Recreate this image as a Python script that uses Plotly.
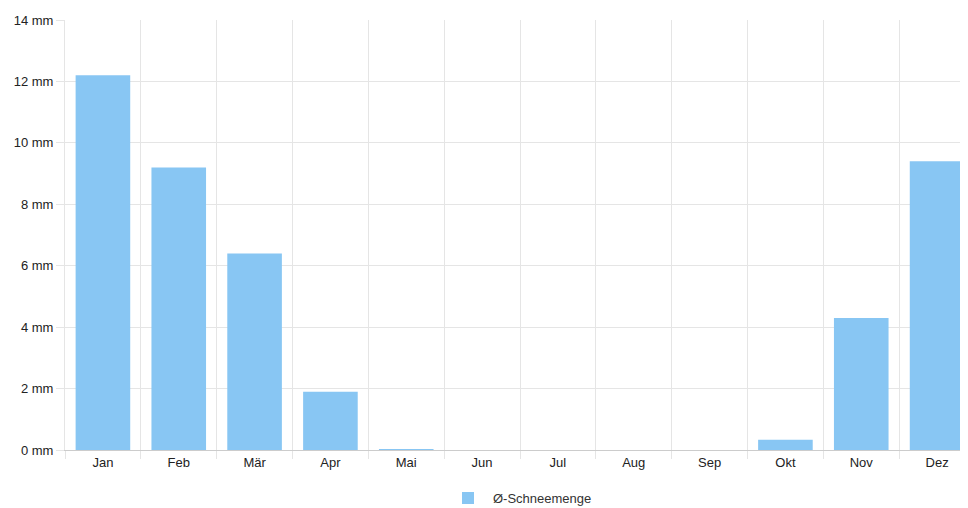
import plotly.graph_objects as go

months = ["Jan", "Feb", "Mär", "Apr", "Mai", "Jun", "Jul", "Aug", "Sep", "Okt", "Nov", "Dez"]
snow = [12.2, 9.2, 6.4, 1.9, 0.03, 0, 0, 0, 0, 0.33, 4.3, 9.4]
yticks = [0, 2, 4, 6, 8, 10, 12, 14]

fig = go.Figure()
fig.add_trace(go.Bar(
    x=months, y=snow, name="Ø-Schneemenge",
    marker=dict(color="#88c6f3", line=dict(color="#88c6f3", width=0)),
    width=0.72,
))
fig.update_layout(
    width=968, height=508,
    margin=dict(l=57, r=1, t=12, b=66),
    plot_bgcolor="white", paper_bgcolor="white",
    font=dict(family="Liberation Sans, Arial", size=13, color="#222"),
    showlegend=True,
    legend=dict(orientation="h", x=0.5, xanchor="center", y=-0.112, yanchor="middle",
                font=dict(size=13, color="#333"), itemwidth=40),
    xaxis=dict(tickson="boundaries", showgrid=True, gridcolor="#e5e5e5",
               ticks="outside", ticklen=8, tickcolor="#e5e5e5", automargin=False,
               showline=True, linecolor="#cccccc", fixedrange=True),
    yaxis=dict(range=[0, 14], tickvals=yticks, ticktext=[f"{v} mm" for v in yticks],
               showgrid=True, gridcolor="#e5e5e5", zeroline=False, automargin=False,
               showline=True, linecolor="#e5e5e5",
               ticks="outside", ticklen=8, tickcolor="#e5e5e5"),
)
fig.write_html("out.html")
